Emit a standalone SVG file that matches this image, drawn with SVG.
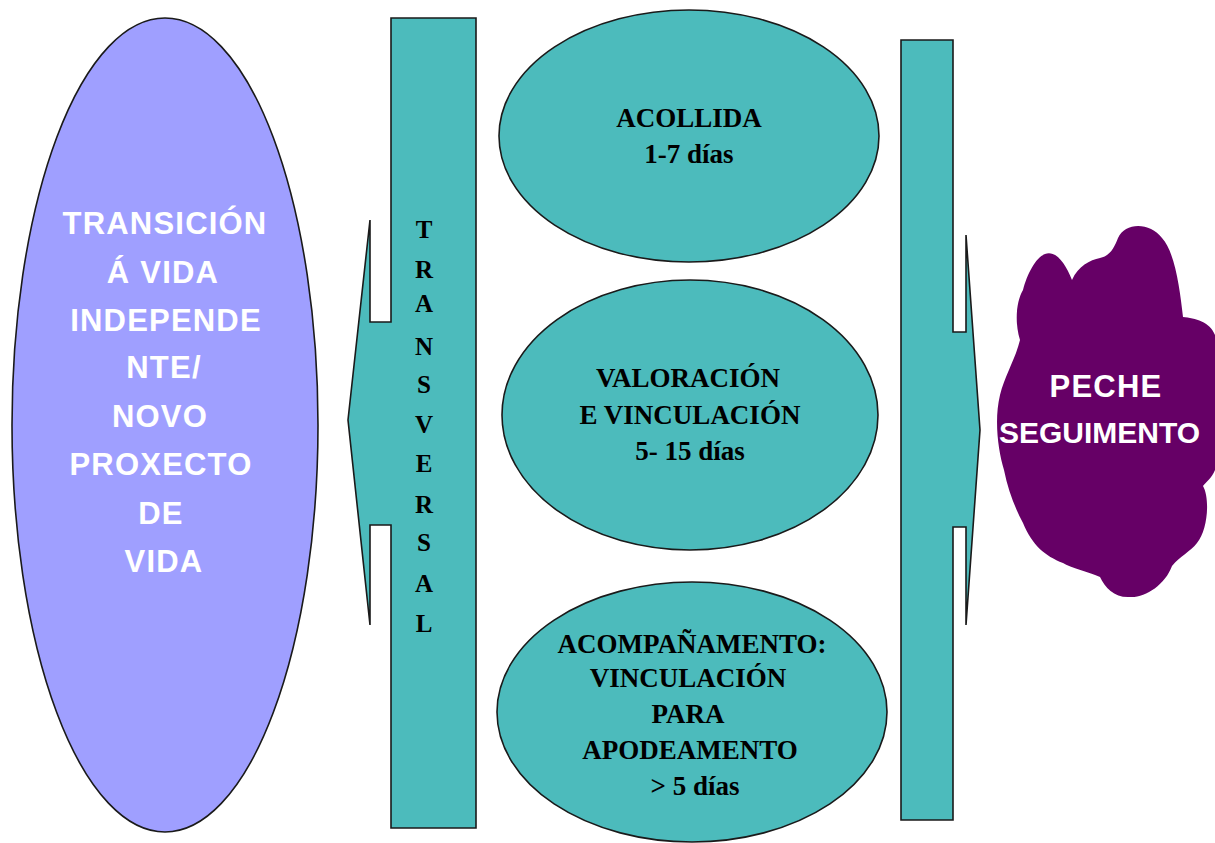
<svg xmlns="http://www.w3.org/2000/svg" width="1215" height="843" viewBox="0 0 1215 843">
<style>
.teal{fill:#4CBBBC;stroke:#1a1a1a;stroke-width:1.6}
.tm{font-family:"Liberation Serif","Times New Roman",serif;font-weight:bold;fill:#000;text-anchor:middle}
.ar{font-family:"Liberation Sans",Arial,sans-serif;font-weight:bold;fill:#fff;font-size:31px;letter-spacing:1.2px}
</style>
<rect width="1215" height="843" fill="#fff"/>
<g id="node-transicion">
<ellipse cx="165" cy="425" rx="153" ry="407" fill="#9F9FFF" stroke="#1a1a1a" stroke-width="1.6"/>
<g class="ar" text-anchor="middle">
<text x="165" y="234">TRANSICIÓN</text>
<text x="163" y="283">Á VIDA</text>
<text x="166" y="331">INDEPENDE</text>
<text x="164" y="378">NTE/</text>
<text x="160" y="427">NOVO</text>
<text x="161" y="475">PROXECTO</text>
<text x="161" y="524">DE</text>
<text x="164" y="572">VIDA</text>
</g>
</g>
<g id="node-transversal">
<polygon class="teal" points="391,18 476,18 476,828 391,828 391,525 370,525 370,625 348,420 370,220 370,322 391,322"/>
<g class="tm" font-size="25">
<text x="424" y="238">T</text>
<text x="424" y="278">R</text>
<text x="424" y="312">A</text>
<text x="424" y="355">N</text>
<text x="424" y="393">S</text>
<text x="424" y="433">V</text>
<text x="424" y="472">E</text>
<text x="424" y="513">R</text>
<text x="424" y="551">S</text>
<text x="424" y="592">A</text>
<text x="424" y="632">L</text>
</g>
</g>
<g id="node-acollida">
<ellipse class="teal" cx="689" cy="136" rx="190" ry="126"/>
<text class="tm" font-size="27" x="689" y="127">ACOLLIDA</text>
<text class="tm" font-size="27" x="689" y="163">1-7 días</text>
</g>
<g id="node-valoracion">
<ellipse class="teal" cx="690" cy="415" rx="188" ry="135"/>
<text class="tm" font-size="27" x="688" y="387">VALORACIÓN</text>
<text class="tm" font-size="27" x="690" y="424">E VINCULACIÓN</text>
<text class="tm" font-size="27" x="690" y="460">5- 15 días</text>
</g>
<g id="node-acompanamento">
<ellipse class="teal" cx="692" cy="712" rx="195" ry="130"/>
<text class="tm" font-size="27" x="692" y="653">ACOMPAÑAMENTO:</text>
<text class="tm" font-size="27" x="688" y="687">VINCULACIÓN</text>
<text class="tm" font-size="27" x="688" y="723">PARA</text>
<text class="tm" font-size="27" x="690" y="759">APODEAMENTO</text>
<text class="tm" font-size="27" x="695" y="795">&gt; 5 días</text>
</g>
<g id="node-right-arrow">
<polygon class="teal" points="901,40 953,40 953,332 966,332 966,235 980,430 966,625 966,527 953,527 953,820 901,820"/>
</g>
<g id="node-peche">
<path fill="#660066" d="M1118,238 C1125,222 1150,222 1162,238 C1175,252 1180,290 1183,317 C1195,318 1210,322 1215,335 L1215,470 C1212,478 1206,482 1203,486 C1210,498 1208,530 1197,543 C1190,552 1180,556 1172,566 C1165,585 1145,598 1130,597 C1115,598 1105,588 1100,577 C1090,572 1070,568 1063,563 C1045,556 1032,545 1023,523 C1015,508 1008,490 1004,470 C998,450 994,420 1000,395 C1005,375 1015,360 1020,340 C1014,320 1017,300 1023,290 C1027,275 1035,258 1045,254 C1055,250 1065,262 1072,280 C1078,266 1090,260 1100,258 C1110,256 1114,248 1118,238 Z"/>
<text class="ar" x="1106" y="397" text-anchor="middle">PECHE</text>
<text class="ar" x="999" y="443" style="letter-spacing:0;font-size:30px">SEGUIMENTO</text>
</g>
<g id="connectors"/>
</svg>
